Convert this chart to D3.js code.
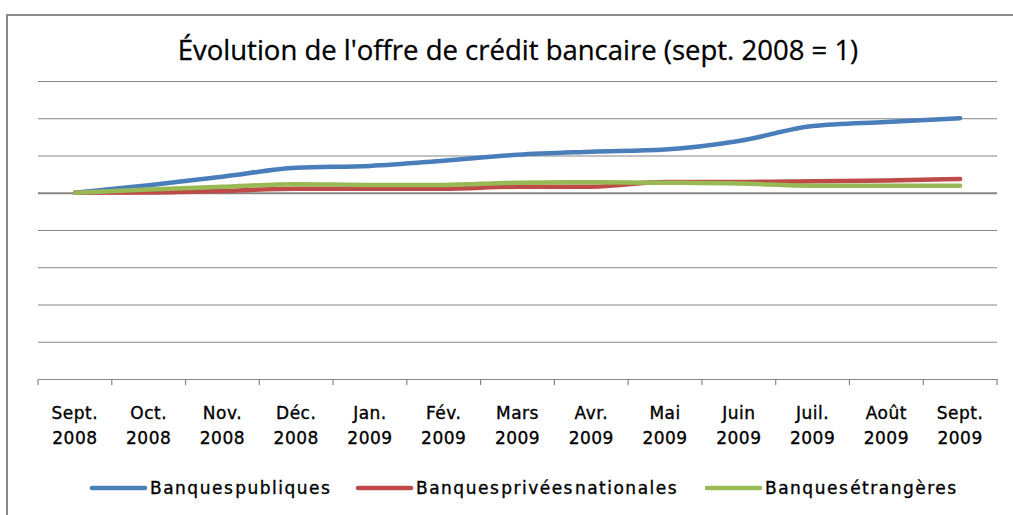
<!DOCTYPE html>
<html>
<head>
<meta charset="utf-8">
<script src="https://cdn.jsdelivr.net/npm/d3@7"></script>
<style>
body { margin: 0; background: #fff; }
svg { display: block; }
</style>
</head>
<body>
<div id="chart"></div>
<script>
// months (two-line labels)
const months = ["Sept.", "Oct.", "Nov.", "Déc.", "Jan.", "Fév.", "Mars", "Avr.", "Mai", "Juin", "Juil.", "Août", "Sept."];
const years = ["2008", "2008", "2008", "2008", "2009", "2009", "2009", "2009", "2009", "2009", "2009", "2009", "2009"];

const publiques = [1.000, 1.020, 1.043, 1.067, 1.072, 1.086, 1.102, 1.110, 1.116, 1.139, 1.179, 1.190, 1.200];
const privees = [1.000, 1.001, 1.005, 1.011, 1.011, 1.011, 1.016, 1.016, 1.029, 1.029, 1.031, 1.033, 1.037];
const etrangeres = [1.000, 1.009, 1.016, 1.023, 1.021, 1.021, 1.027, 1.028, 1.027, 1.025, 1.019, 1.019, 1.019];

const seriesNames = ["Banques publiques", "Banques privées nationales", "Banques étrangères"];
const colors = ["#4a7ebb", "#be4b48", "#98b954"];
const yTicks = [0.6, 0.7, 0.8, 0.9, 1.0, 1.1, 1.2, 1.3];

const W = 1013, H = 515;
const mLeft = 38, mRight = 997, mTop = 81, mBottom = 379;

var svg = d3.select("#chart")
            .append("svg")
            .attr("width", W)
            .attr("height", H);

// frame of the chart area
svg.append("path")
    .attr("d", `M7,${H} L7,15 L${W},15`)
    .attr("fill", "none")
    .attr("stroke", "#898989")
    .attr("stroke-width", 2);

svg.append("text")
    .attr("x", 518)
    .attr("y", 60)
    .attr("text-anchor", "middle")
    .attr("font-family", "'Open Sans', sans-serif")
    .attr("font-size", 27.5)
    .attr("fill", "#000")
    .attr("stroke", "#000")
    .attr("stroke-width", 0.3)
    .text("Évolution de l'offre de crédit bancaire (sept. 2008 = 1)");

const x = d3.scaleBand()
    .domain(d3.range(months.length))
    .range([mLeft, mRight]);

const y = d3.scaleLinear()
    .domain([0.5, 1.3])
    .range([mBottom, mTop]);

// gridlines, no labels
const grid = svg.append("g")
    .attr("transform", `translate(${mLeft},0)`)
    .call(d3.axisLeft(y).tickValues(yTicks).tickSize(-(mRight - mLeft)).tickFormat(""));
grid.select(".domain").remove();
grid.selectAll(".tick line")
    .attr("stroke", "#868686")
    .attr("stroke-width", d => d === 1.0 ? 2 : 1.2);

// category axis
const xAxis = svg.append("g")
    .attr("transform", `translate(0,${mBottom})`)
    .call(d3.axisBottom(x).tickSize(0).tickFormat(""));
xAxis.select(".domain")
    .attr("stroke", "#868686")
    .attr("stroke-width", 1.2);

const edges = x.domain().map(d => x(d)).concat([mRight]);
xAxis.selectAll(".edge")
    .data(edges)
    .enter()
    .append("line")
    .attr("x1", d => d).attr("x2", d => d)
    .attr("y1", 0).attr("y2", 6)
    .attr("stroke", "#868686")
    .attr("stroke-width", 1.2);

const lbl = xAxis.selectAll(".tick")
    .append("text")
    .attr("fill", "#000")
    .attr("stroke", "#000")
    .attr("stroke-width", 0.35)
    .attr("font-family", "'DejaVu Sans', sans-serif")
    .attr("font-size", 17)
    .attr("letter-spacing", 0.5)
    .attr("text-anchor", "middle");
lbl.append("tspan").attr("x", 0).attr("y", 40).text(d => months[d]);
lbl.append("tspan").attr("x", 0).attr("y", 65).text(d => years[d]);

// lines
const line = d3.line()
    .x((d, i) => x(i) + x.bandwidth() / 2)
    .y(d => y(d))
    .curve(d3.curveMonotoneX);

[publiques, privees, etrangeres].forEach((s, k) => {
    svg.append("path")
        .datum(s)
        .attr("d", line)
        .attr("fill", "none")
        .attr("stroke", colors[k])
        .attr("stroke-width", 4.5)
        .attr("stroke-linecap", "round")
        .attr("stroke-linejoin", "round");
});

// legend
const legendX = [92, 358, 707];
const leg = svg.append("g").selectAll("g")
    .data(seriesNames)
    .enter()
    .append("g")
    .attr("transform", (d, i) => `translate(${legendX[i]},488)`);
leg.append("line")
    .attr("x1", 0).attr("x2", 53)
    .attr("stroke", (d, i) => colors[i])
    .attr("stroke-width", 4.5)
    .attr("stroke-linecap", "round");
leg.append("text")
    .attr("x", 58)
    .attr("y", 6)
    .attr("font-family", "'DejaVu Sans', sans-serif")
    .attr("font-size", 17)
    .attr("letter-spacing", 1.5)
    .attr("word-spacing", -6)
    .attr("fill", "#000")
    .attr("stroke", "#000")
    .attr("stroke-width", 0.35)
    .text(d => d);
</script>
</body>
</html>
